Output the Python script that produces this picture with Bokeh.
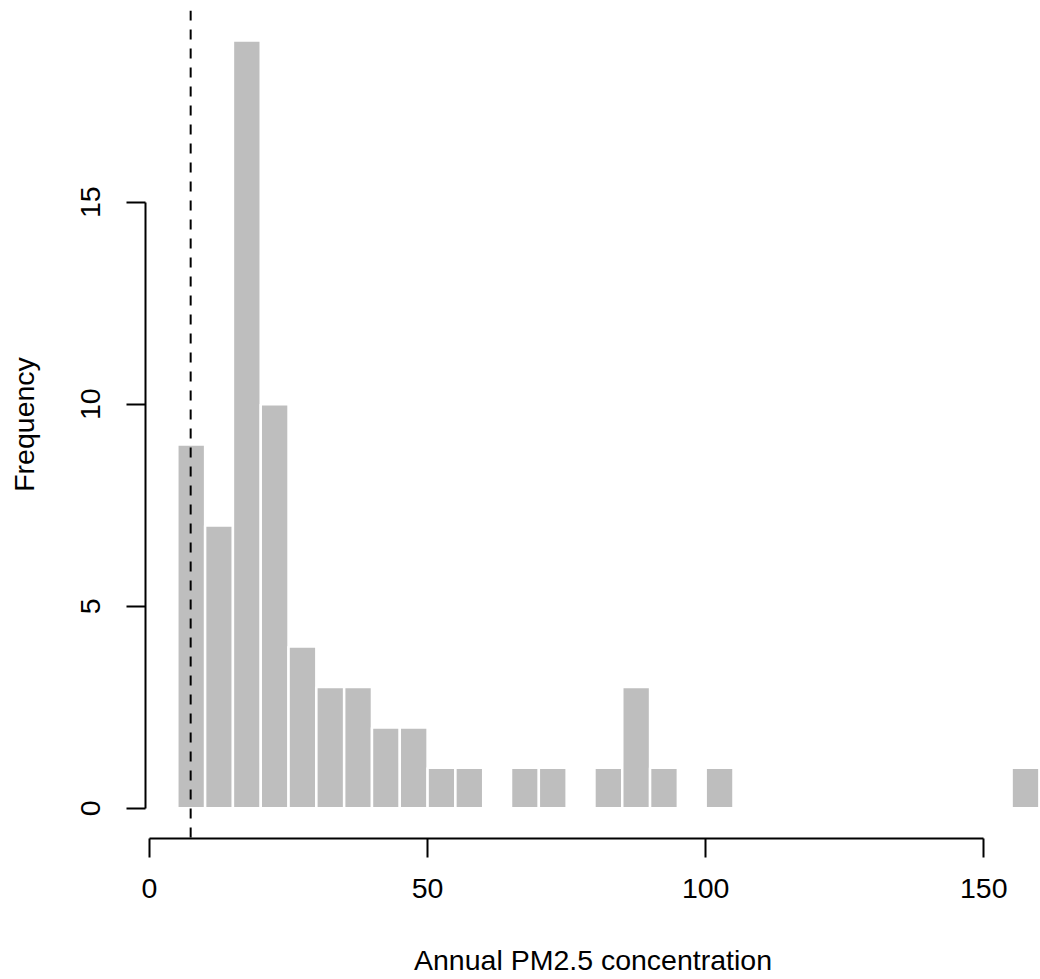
from bokeh.plotting import figure
from bokeh.models import Range1d, FixedTicker, Span, ColumnDataSource
from bokeh.embed import file_html
from bokeh.resources import INLINE

# Histogram data (bin width 5)
bin_left = [5, 10, 15, 20, 25, 30, 35, 40, 45, 50, 55, 60, 65, 70, 75, 80, 85,
            90, 95, 100, 105, 110, 115, 120, 125, 130, 135, 140, 145, 150, 155]
counts = [9, 7, 19, 10, 4, 3, 3, 2, 2, 1, 1, 0, 1, 1, 0, 1, 3,
          1, 0, 1, 0, 0, 0, 0, 0, 0, 0, 0, 0, 0, 1]
bin_width = 5
x_ticks = [0, 50, 100, 150]
y_ticks = [0, 5, 10, 15]
ref_line = 7.4
x_label = "Annual PM2.5 concentration"
y_label = "Frequency"

FONT = "Liberation Sans"
FS = "28.5px"

src = ColumnDataSource(dict(
    left=bin_left,
    right=[b + bin_width for b in bin_left],
    top=counts,
    bottom=[0] * len(counts),
))

p = figure(
    width=1040, height=979,
    x_range=Range1d(-0.719, 160.2), y_range=Range1d(-0.75, 19.745),
    output_backend="svg", toolbar_location=None,
    min_border_left=145, min_border_top=10, min_border_right=0, min_border_bottom=141,
    background_fill_color="white", border_fill_color="white",
)
p.outline_line_color = None
p.grid.visible = False

p.quad(left="left", right="right", top="top", bottom="bottom", source=src,
       fill_color="#BEBEBE", line_color="white", line_width=2.5)

p.add_layout(Span(location=ref_line, dimension="height", line_color="black",
                  line_width=2, line_dash="10 9"))

for ax, ticks, bounds in ((p.xaxis[0], x_ticks, (0, 150)), (p.yaxis[0], y_ticks, (0, 15))):
    ax.ticker = FixedTicker(ticks=ticks, minor_ticks=[])
    ax.bounds = bounds
    ax.axis_line_width = 2
    ax.axis_line_color = "black"
    ax.major_tick_line_width = 2
    ax.major_tick_line_color = "black"
    ax.major_tick_out = 19
    ax.major_tick_in = 0
    ax.minor_tick_line_color = None
    ax.major_label_text_font = FONT
    ax.major_label_text_font_size = FS
    ax.major_label_text_color = "black"
    ax.axis_label_text_font = FONT
    ax.axis_label_text_font_size = FS
    ax.axis_label_text_font_style = "normal"
    ax.axis_label_text_color = "black"

p.xaxis.axis_label = x_label
p.xaxis.major_label_standoff = 21
p.xaxis.axis_label_standoff = 43

p.yaxis.axis_label = y_label
p.yaxis.major_label_orientation = "vertical"
p.yaxis.major_label_standoff = 26
p.yaxis.axis_label_standoff = 39

open("out.html", "w").write(file_html(p, INLINE))
